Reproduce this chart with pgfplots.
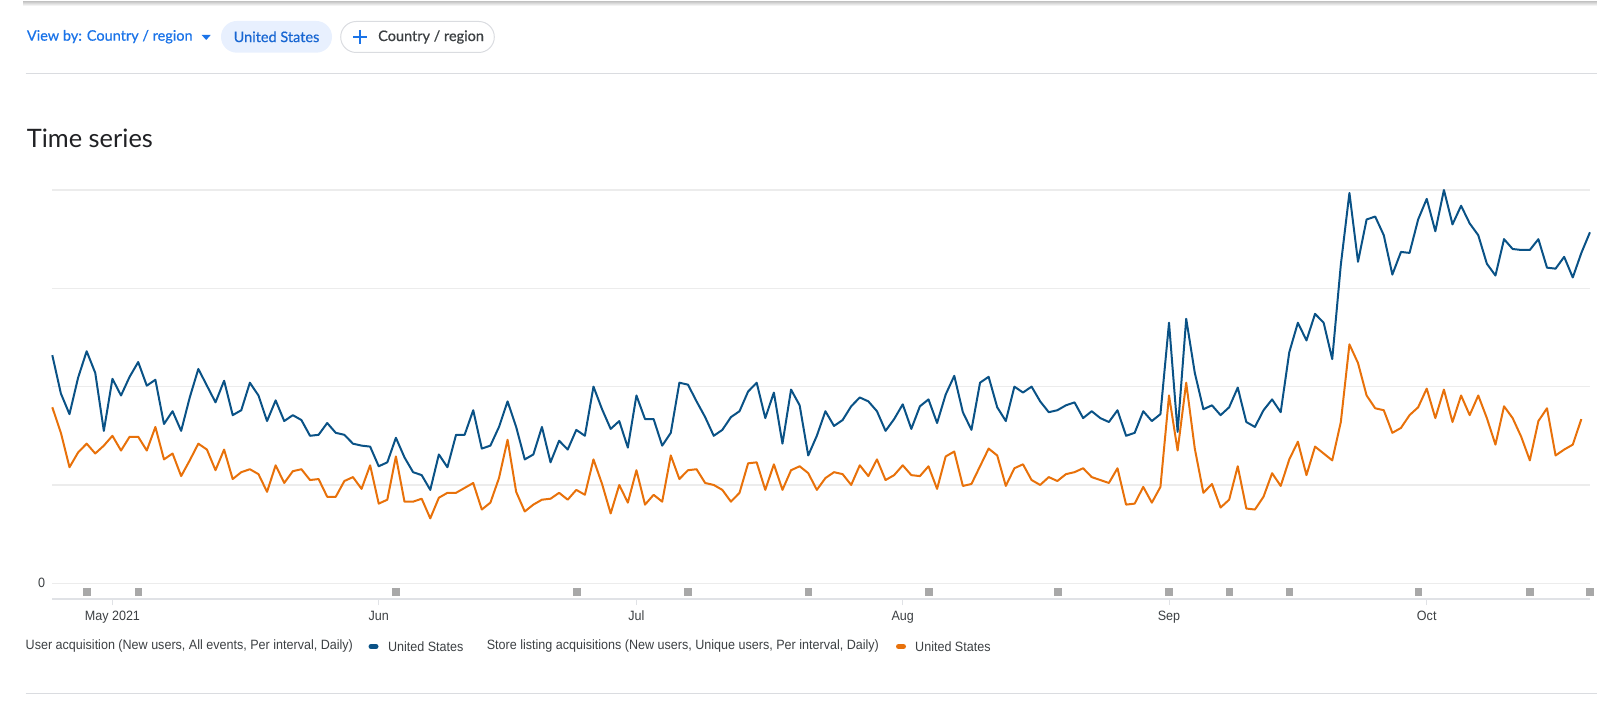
\documentclass[border=0pt]{standalone}
\usepackage{fontspec}
\usepackage{pgfplots}
\pgfplotsset{compat=1.18}
\setmainfont{Liberation Sans}
\newfontfamily\labelfont{Liberation Sans}[FakeStretch=0.93]
\newfontfamily\headfont{Lato}
\newfontfamily\headmedium{Lato}[FakeBold=0.6]
\definecolor{uablue}{HTML}{0A5286}
\definecolor{slorange}{HTML}{E8710A}
\definecolor{gridgray}{HTML}{ECECEC}
\definecolor{basegray}{HTML}{E0E2E6}
\definecolor{markgray}{HTML}{A8A8A8}
\definecolor{textgray}{HTML}{3C4043}
\definecolor{linkblue}{HTML}{1A73E8}
\definecolor{chipblue}{HTML}{E8F0FE}
\definecolor{chiptext}{HTML}{1967D2}
\definecolor{chipborder}{HTML}{DADCE0}
\definecolor{titletext}{HTML}{202124}

\begin{document}
\begin{tikzpicture}[x=1pt,y=1pt]
\path[use as bounding box] (0,0) rectangle (1597,715);

% card edge and separators
\shade[top color=black!22, bottom color=white] (23,713.5) rectangle (1597,709);
\draw[chipborder, line width=1pt] (25.5,641.7) -- (1597,641.7);
\draw[chipborder, line width=1pt] (25.5,21.4) -- (1597,21.4);

% filter row
\node[anchor=base west, inner sep=0pt, text=linkblue]
  at (26.7,674.3) {\headmedium\fontsize{14.5}{17}\selectfont View by: Country / region};
\fill[linkblue] (201.7,680) -- (210.7,680) -- (206.2,675) -- cycle;
\fill[chipblue, rounded corners=15.8pt] (221,694) rectangle (332,662.3);
\node[inner sep=0pt, text=chiptext] at (276.5,678.2)
  {\headmedium\fontsize{14.5}{17}\selectfont United States};
\draw[chipborder, line width=1pt, rounded corners=15.5pt] (340.7,693.5) rectangle (494.3,662.5);
\draw[linkblue, line width=2pt] (353,678) -- (367,678) (360,685) -- (360,671);
\node[anchor=west, inner sep=0pt, text=textgray] at (378,678)
  {\headmedium\fontsize{14.5}{17}\selectfont Country / region};

% section title
\node[anchor=base west, inner sep=0pt, text=titletext] at (26.7,567.5)
  {\headfont\fontsize{25.4}{30}\selectfont Time series};

\begin{axis}[
  at={(52.3pt,115.7pt)}, anchor=south west,
  scale only axis, width=1537.6pt, height=409.3pt,
  xmin=0, xmax=179, ymin=-16.3, ymax=400,
  clip=false,
  axis line style={draw=none},
  ytick={0,100,200,300,400},
  yticklabels={0,{},{},{},{}},
  ymajorgrids,
  grid style={gridgray, line width=1.3pt},
  y tick style={draw=none},
  yticklabel style={anchor=east, inner sep=0pt, xshift=-1pt, text=textgray,
    font=\labelfont\fontsize{13.5}{16}\selectfont},
  xtick={7,38,68,99,130,160},
  xticklabels={May 2021,Jun,Jul,Aug,Sep,Oct},
  xtick pos=bottom,
  tick align=outside,
  major tick length=6pt,
  x tick style={basegray, line width=1pt},
  xticklabel style={anchor=base, inner sep=0pt, yshift=-15.6pt, text=textgray,
    font=\labelfont\fontsize{13.5}{16}\selectfont},
]
% chart baseline
\draw[basegray, line width=2pt] (axis cs:0,-16.3) -- (axis cs:179,-16.3);

% annotation markers
\addplot[only marks, mark=square*, mark size=3.4pt, color=markgray, mark options={draw=none}]
  coordinates {(4,-8.8) (10,-8.8) (40,-8.8) (61,-8.8) (74,-8.8) (88,-8.8) (102,-8.8)
    (117,-8.8) (130,-8.8) (137,-8.8) (144,-8.8) (159,-8.8) (172,-8.8) (179,-8.8)};

% User acquisition, daily
\addplot[uablue, line width=2pt, line join=round, mark=none] coordinates {
(0,232) (1,193) (2,172) (3,209) (4,236) (5,214) (6,155) (7,208) (8,191) (9,210)
(10,225) (11,201) (12,207) (13,162) (14,175) (15,155) (16,189) (17,218) (18,201) (19,184)
(20,206) (21,171) (22,176) (23,204) (24,191) (25,165) (26,186) (27,165) (28,171) (29,166)
(30,150) (31,151) (32,163) (33,153) (34,151) (35,142) (36,140) (37,139) (38,119) (39,123)
(40,148) (41,128) (42,113) (43,110) (44,95) (45,131) (46,118) (47,151) (48,151) (49,176)
(50,137) (51,140) (52,159) (53,185) (54,159) (55,126) (56,131) (57,159) (58,123) (59,145)
(60,136) (61,156) (62,150) (63,200) (64,177) (65,157) (66,165) (67,138) (68,191) (69,167)
(70,167) (71,140) (72,153) (73,204) (74,202) (75,185) (76,169) (77,150) (78,156) (79,169)
(80,175) (81,195) (82,204) (83,168) (84,194) (85,142) (86,197) (87,181) (88,130) (89,150)
(90,175) (91,160) (92,166) (93,180) (94,189) (95,185) (96,175) (97,155) (98,167) (99,182)
(100,157) (101,180) (102,187) (103,163) (104,192) (105,211) (106,174) (107,156) (108,204) (109,210)
(110,179) (111,165) (112,200) (113,194) (114,200) (115,185) (116,174) (117,176) (118,181) (119,184)
(120,168) (121,175) (122,168) (123,164) (124,176) (125,150) (126,153) (127,175) (128,165) (129,172)
(130,265) (131,154) (132,269) (133,214) (134,177) (135,181) (136,171) (137,179) (138,199) (139,164)
(140,159) (141,176) (142,187) (143,174) (144,235) (145,265) (146,247) (147,274) (148,265) (149,228)
(150,324) (151,397) (152,327) (153,370) (154,373) (155,354) (156,314) (157,337) (158,336) (159,370)
(160,391) (161,358) (162,400) (163,365) (164,384) (165,366) (166,354) (167,325) (168,313) (169,350)
(170,340) (171,339) (172,339) (173,350) (174,321) (175,320) (176,332) (177,311) (178,336) (179,357)
};

% Store listing acquisitions, daily
\addplot[slorange, line width=2pt, line join=round, mark=none] coordinates {
(0,179) (1,153) (2,118) (3,133) (4,142) (5,132) (6,140) (7,150) (8,135) (9,149)
(10,149) (11,135) (12,159) (13,126) (14,132) (15,109) (16,125) (17,142) (18,136) (19,115)
(20,136) (21,106) (22,113) (23,116) (24,111) (25,93) (26,120) (27,102) (28,114) (29,116)
(30,105) (31,106) (32,88) (33,88) (34,104) (35,108) (36,96) (37,120) (38,81) (39,85)
(40,129) (41,83) (42,83) (43,86) (44,66) (45,87) (46,92) (47,92) (48,97) (49,102)
(50,75) (51,82) (52,107) (53,146) (54,93) (55,73) (56,80) (57,85) (58,86) (59,92)
(60,85) (61,95) (62,90) (63,126) (64,101) (65,71) (66,100) (67,82) (68,115) (69,80)
(70,90) (71,83) (72,130) (73,106) (74,115) (75,116) (76,102) (77,100) (78,95) (79,83)
(80,92) (81,122) (82,123) (83,95) (84,121) (85,95) (86,115) (87,119) (88,112) (89,95)
(90,107) (91,113) (92,111) (93,100) (94,120) (95,109) (96,126) (97,105) (98,110) (99,120)
(100,110) (101,109) (102,119) (103,96) (104,129) (105,134) (106,99) (107,101) (108,119) (109,137)
(110,130) (111,99) (112,117) (113,121) (114,105) (115,100) (116,108) (117,104) (118,111) (119,113)
(120,117) (121,108) (122,105) (123,102) (124,117) (125,80) (126,81) (127,98) (128,82) (129,98)
(130,191) (131,135) (132,204) (133,137) (134,92) (135,101) (136,77) (137,85) (138,119) (139,76)
(140,75) (141,88) (142,112) (143,99) (144,126) (145,144) (146,110) (147,139) (148,132) (149,125)
(150,164) (151,243) (152,224) (153,191) (154,178) (155,176) (156,153) (157,158) (158,171) (159,179)
(160,198) (161,168) (162,197) (163,164) (164,191) (165,171) (166,191) (167,168) (168,141) (169,180)
(170,168) (171,149) (172,125) (173,165) (174,178) (175,130) (176,136) (177,141) (178,167)
};
\end{axis}

% legend row
\node[anchor=west, inner sep=0pt, text=textgray] at (25.5,68.5)
  {\labelfont\fontsize{13.5}{16}\selectfont User acquisition (New users, All events, Per interval, Daily)};
\draw[uablue, line width=5pt, line cap=round] (371,68.5) -- (376,68.5);
\node[anchor=west, inner sep=0pt, text=textgray] at (387.8,68.5)
  {\labelfont\fontsize{13.5}{16}\selectfont United States};
\node[anchor=west, inner sep=0pt, text=textgray] at (486.6,68.5)
  {\labelfont\fontsize{13.5}{16}\selectfont Store listing acquisitions (New users, Unique users, Per interval, Daily)};
\draw[slorange, line width=5pt, line cap=round] (898.5,68.5) -- (903.5,68.5);
\node[anchor=west, inner sep=0pt, text=textgray] at (915,68.5)
  {\labelfont\fontsize{13.5}{16}\selectfont United States};
\end{tikzpicture}
\end{document}
